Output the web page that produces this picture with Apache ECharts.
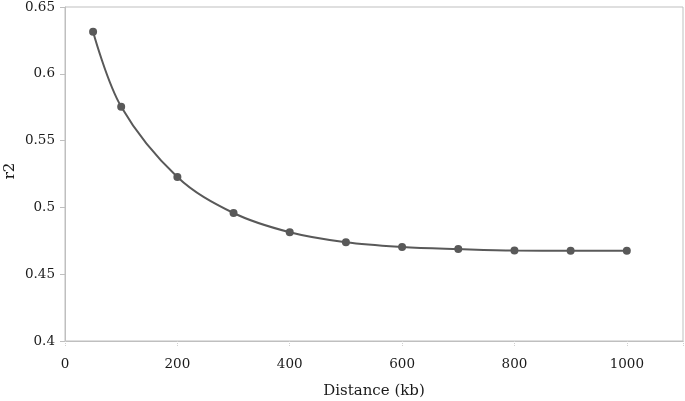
<!DOCTYPE html>
<html>
<head>
<meta charset="utf-8">
<script src="https://cdn.jsdelivr.net/npm/echarts@6/dist/echarts.min.js"></script>
<style>html,body{margin:0;padding:0;background:#fff;}#c{width:685px;height:401px;}</style>
</head>
<body>
<div id="c"></div>
<script>
var distance = [50, 100, 200, 300, 400, 500, 600, 700, 800, 900, 1000];
var r2 = [0.6315, 0.5754, 0.5228, 0.4958, 0.4814, 0.4739, 0.4704, 0.4688, 0.4677, 0.4676, 0.4676];
var xTitle = 'Distance (kb)';
var yTitle = 'r2';

var chart = echarts.init(document.getElementById('c'));
var font = 'DejaVu Serif';
chart.setOption({
  animation: false,
  grid: {left: 65, right: 2, top: 7, bottom: 60, show: true, borderColor: '#bfbfbf', borderWidth: 1,
    containLabel: false, outerBoundsMode: 'none'},
  graphic: [{
    type: 'text', x: 10, y: 171, rotation: Math.PI / 2,
    style: {text: yTitle, fontFamily: font, fontSize: 15, fill: '#1a1a1a', align: 'center', verticalAlign: 'middle'}
  }],
  xAxis: {
    type: 'value', min: 0, max: 1100, interval: 200,
    name: xTitle, nameLocation: 'middle', nameGap: 43,
    nameTextStyle: {fontFamily: font, fontSize: 15, color: '#1a1a1a'},
    axisLine: {show: true, lineStyle: {color: '#bfbfbf'}},
    axisTick: {show: true, length: 5, lineStyle: {color: '#d0d0d0', type: 'dotted'}},
    axisLabel: {fontFamily: font, fontSize: 13.5, color: '#1a1a1a', margin: 16,
      formatter: function(v){ return v > 1000 ? '' : v; }},
    splitLine: {show: false}
  },
  yAxis: {
    type: 'value', min: 0.4, max: 0.65, interval: 0.05,
    axisLine: {show: true, lineStyle: {color: '#bfbfbf'}},
    axisTick: {show: true, length: 5, lineStyle: {color: '#bfbfbf'}},
    axisLabel: {fontFamily: font, fontSize: 13.5, color: '#1a1a1a', margin: 10},
    splitLine: {show: false}
  },
  series: [{
    type: 'line',
    data: distance.map(function(d, i){ return [d, r2[i]]; }),
    smooth: 0.35,
    symbol: 'circle', symbolSize: 8,
    lineStyle: {color: '#595959', width: 2},
    itemStyle: {color: '#595959'}
  }]
});
</script>
</body>
</html>
